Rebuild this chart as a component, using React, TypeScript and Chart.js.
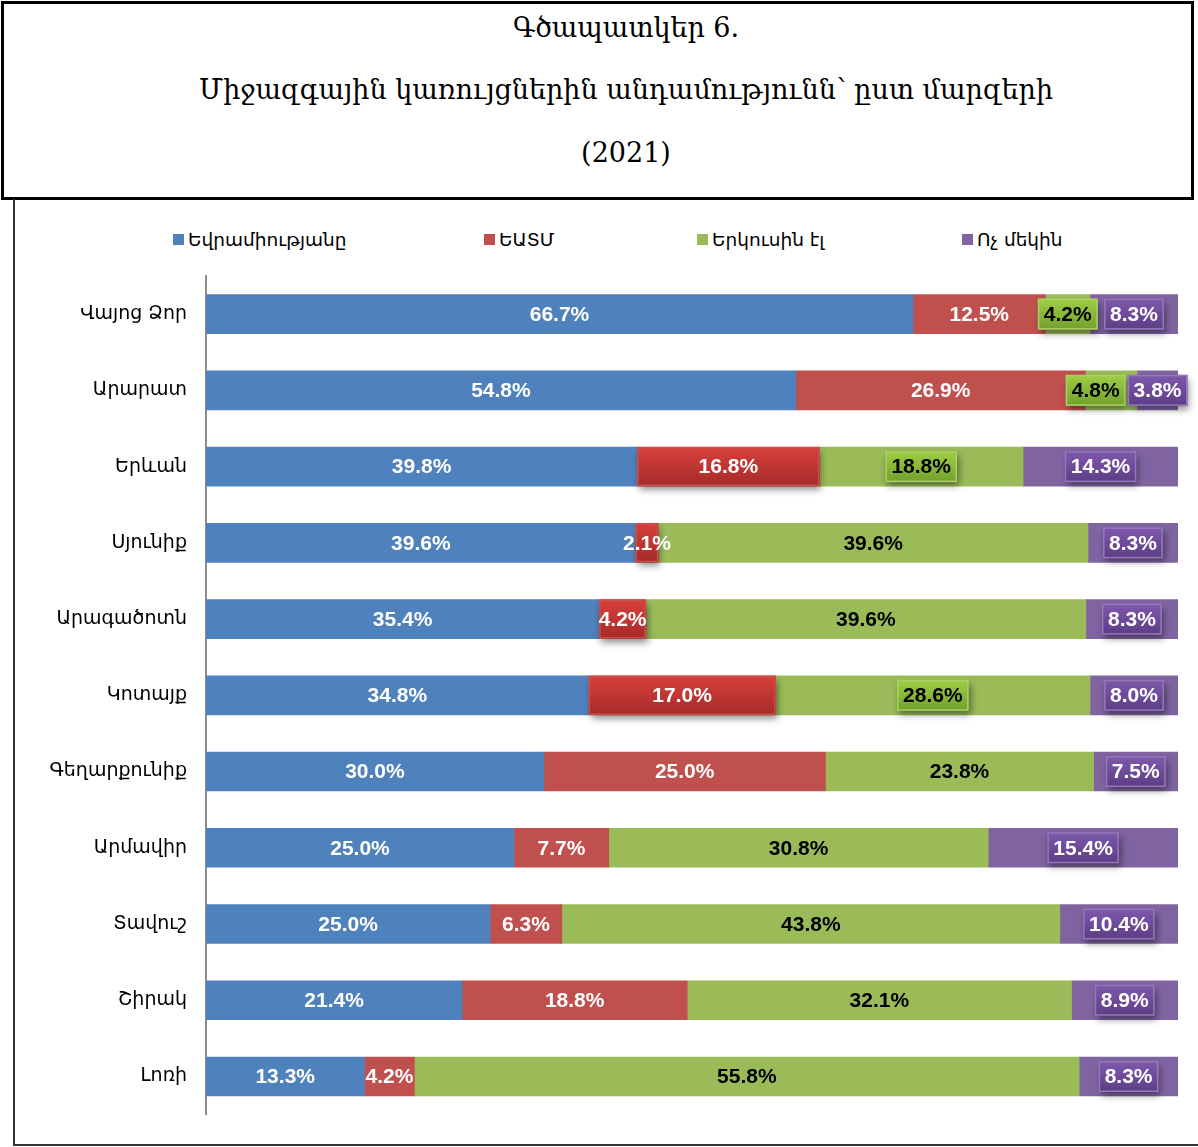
import React, { useEffect, useRef } from "react";
import { Chart, registerables } from "chart.js";

Chart.register(...registerables);

const titleLines = ["Գծապատկեր 6.", "Միջազգային կառույցներին անդամությունն՝ ըստ մարզերի", "(2021)"];
const categories = ["Վայոց Ձոր", "Արարատ", "Երևան", "Սյունիք", "Արագածոտն", "Կոտայք", "Գեղարքունիք", "Արմավիր", "Տավուշ", "Շիրակ", "Լոռի"];
const seriesNames = ["Եվրամիությանը", "ԵԱՏՄ", "Երկուսին էլ", "Ոչ մեկին"];
const euValues = [66.7, 54.8, 39.8, 39.6, 35.4, 34.8, 30.0, 25.0, 25.0, 21.4, 13.3];
const eaeuValues = [12.5, 26.9, 16.8, 2.1, 4.2, 17.0, 25.0, 7.7, 6.3, 18.8, 4.2];
const bothValues = [4.2, 4.8, 18.8, 39.6, 39.6, 28.6, 23.8, 30.8, 43.8, 32.1, 55.8];
const noneValues = [8.3, 3.8, 14.3, 8.3, 8.3, 8.0, 7.5, 15.4, 10.4, 8.9, 8.3];
const seriesColors = ["#4F81BD", "#C0504D", "#9BBB59", "#8064A2"];
const labelColors = ["#FFFFFF", "#FFFFFF", "#000000", "#FFFFFF"];
// which data points carry a highlighted (boxed) label
const highlightRed = [false, false, true, true, true, true, false, false, false, false, false];
const highlightGreen = [true, true, true, false, false, true, false, false, false, false, false];
const highlightPurple = [true, true, true, true, true, true, true, true, true, true, true];

const rawSeries = [euValues, eaeuValues, bothValues, noneValues];
const highlights = [null, highlightRed, highlightGreen, highlightPurple];
const legendLeft = [173, 484, 697, 962];

const boxGrad: Record<number, [string, string, string]> = {
  1: ["#d8403c", "#a52b29", "#c9504c"],
  2: ["#9fcf45", "#72a02c", "#a9cf6a"],
  3: ["#7f59ad", "#5c3d86", "#9479b8"],
};

const LABEL_FONT = 'bold 21px "Liberation Sans", Arial, sans-serif';

const labelPlugin = {
  id: "segLabels",
  afterDatasetsDraw(chart: any) {
    const ctx = chart.ctx as CanvasRenderingContext2D;
    ctx.save();
    ctx.font = LABEL_FONT;
    const nDs = chart.data.datasets.length;
    // compute label centres (from bar geometry)
    const centres: number[][] = [];
    const widths: number[][] = [];
    for (let di = 0; di < nDs; di++) {
      const meta = chart.getDatasetMeta(di);
      centres[di] = [];
      widths[di] = [];
      meta.data.forEach((bar: any, i: number) => {
        const { x, base } = bar.getProps(["x", "base"], true);
        centres[di][i] = (x + base) / 2;
        widths[di][i] = ctx.measureText(rawSeries[di][i].toFixed(1) + "%").width + 12;
      });
    }
    // avoid overlap of green box with purple box
    for (let i = 0; i < categories.length; i++) {
      if (highlightGreen[i]) {
        const gRight = centres[2][i] + widths[2][i] / 2;
        const pLeft = centres[3][i] - widths[3][i] / 2;
        const shift = Math.max(0, gRight + 2 - pLeft);
        centres[2][i] -= shift;
      }
    }
    ctx.restore();

    for (let di = 0; di < nDs; di++) {
      const meta = chart.getDatasetMeta(di);
      meta.data.forEach((bar: any, i: number) => {
        const raw = rawSeries[di][i];
        const { x, base, y, height } = bar.getProps(["x", "base", "y", "height"], true);
        const left = Math.min(x, base);
        const right = Math.max(x, base);
        const cx = centres[di][i];
        const text = raw.toFixed(1) + "%";
        ctx.save();
        ctx.font = LABEL_FONT;
        const hl = highlights[di];
        if (hl && hl[i]) {
          let bx: number, by: number, bw: number, bh: number;
          if (di === 1) {
            bx = left; bw = right - left; by = y - height / 2; bh = height;
          } else {
            bw = widths[di][i]; bh = 31; bx = cx - bw / 2; by = y - bh / 2;
          }
          const [c1, c2, edge] = boxGrad[di];
          const g = ctx.createLinearGradient(0, by, 0, by + bh);
          g.addColorStop(0, c1);
          g.addColorStop(1, c2);
          ctx.save();
          ctx.shadowColor = "rgba(0,0,0,0.45)";
          ctx.shadowBlur = 7;
          ctx.shadowOffsetX = 2;
          ctx.shadowOffsetY = 4;
          ctx.fillStyle = g;
          ctx.fillRect(bx, by, bw, bh);
          ctx.restore();
          ctx.strokeStyle = edge;
          ctx.lineWidth = 1.5;
          ctx.strokeRect(bx + 0.75, by + 0.75, bw - 1.5, bh - 1.5);
        }
        ctx.fillStyle = labelColors[di];
        ctx.textAlign = "center";
        ctx.textBaseline = "middle";
        ctx.fillText(text, cx, y + 1);
        ctx.restore();
      });
    }
  },
};

export default function App() {
  const canvasRef = useRef<HTMLCanvasElement | null>(null);

  useEffect(() => {
    const canvas = canvasRef.current;
    if (!canvas) return;
    const datasets = rawSeries.map((vals, si) => ({
      label: seriesNames[si],
      data: vals.map((v, i) => {
        const sum = euValues[i] + eaeuValues[i] + bothValues[i] + noneValues[i];
        return (v / sum) * 100;
      }),
      backgroundColor: seriesColors[si],
      borderWidth: 0,
      barThickness: 39,
    }));
    const chart = new Chart(canvas, {
      type: "bar",
      data: { labels: categories, datasets },
      options: {
        indexAxis: "y",
        responsive: false,
        animation: false,
        layout: { padding: { top: 76, bottom: 30, left: 0, right: 20 } },
        plugins: { legend: { display: false }, tooltip: { enabled: false }, title: { display: false } },
        scales: {
          x: { stacked: true, min: 0, max: 100, display: false },
          y: {
            stacked: true,
            grid: { display: false, drawTicks: false },
            border: { display: true, color: "#8c8c8c", width: 2 },
            ticks: {
              color: "#000",
              padding: 19,
              font: { family: '"DejaVu Sans", sans-serif', size: 19 },
            },
            afterFit: (scale: any) => {
              scale.width = 190;
            },
          },
        },
      },
      plugins: [labelPlugin],
    } as any);
    return () => chart.destroy();
  }, []);

  return (
    <div style={{ position: "fixed", left: 0, top: 0, width: 1198, height: 1147, overflow: "hidden", background: "#fff" }}>
      <div
        style={{
          position: "absolute", left: 1, top: 1, width: 1193, height: 199,
          border: "3px solid #000", boxSizing: "border-box",
        }}
      />
      {titleLines.map((t, k) => (
        <div
          key={k}
          style={{
            position: "absolute", left: 0, width: 1252, top: [28, 90, 153][k] - 20, height: 40,
            lineHeight: "40px", textAlign: "center", fontFamily: '"DejaVu Serif", serif', fontSize: 27,
            color: "#000", whiteSpace: "nowrap",
          }}
        >
          {t}
        </div>
      ))}
      <div
        style={{
          position: "absolute", left: 13, top: 199, width: 1200, height: 947,
          borderLeft: "2px solid #333", borderBottom: "2px solid #333", boxSizing: "border-box",
        }}
      />
      {seriesNames.map((n, k) => (
        <div key={k} style={{ position: "absolute", left: legendLeft[k], top: 228, height: 22, display: "flex", alignItems: "center", whiteSpace: "nowrap" }}>
          <span style={{ display: "inline-block", width: 11, height: 11, background: seriesColors[k], marginRight: 4 }} />
          <span style={{ fontFamily: '"DejaVu Sans", sans-serif', fontSize: 18.5, color: "#000" }}>{n}</span>
        </div>
      ))}
      <div style={{ position: "absolute", left: 16, top: 200, width: 1182, height: 945 }}>
        <canvas ref={canvasRef} width={1182} height={945} />
      </div>
    </div>
  );
}
